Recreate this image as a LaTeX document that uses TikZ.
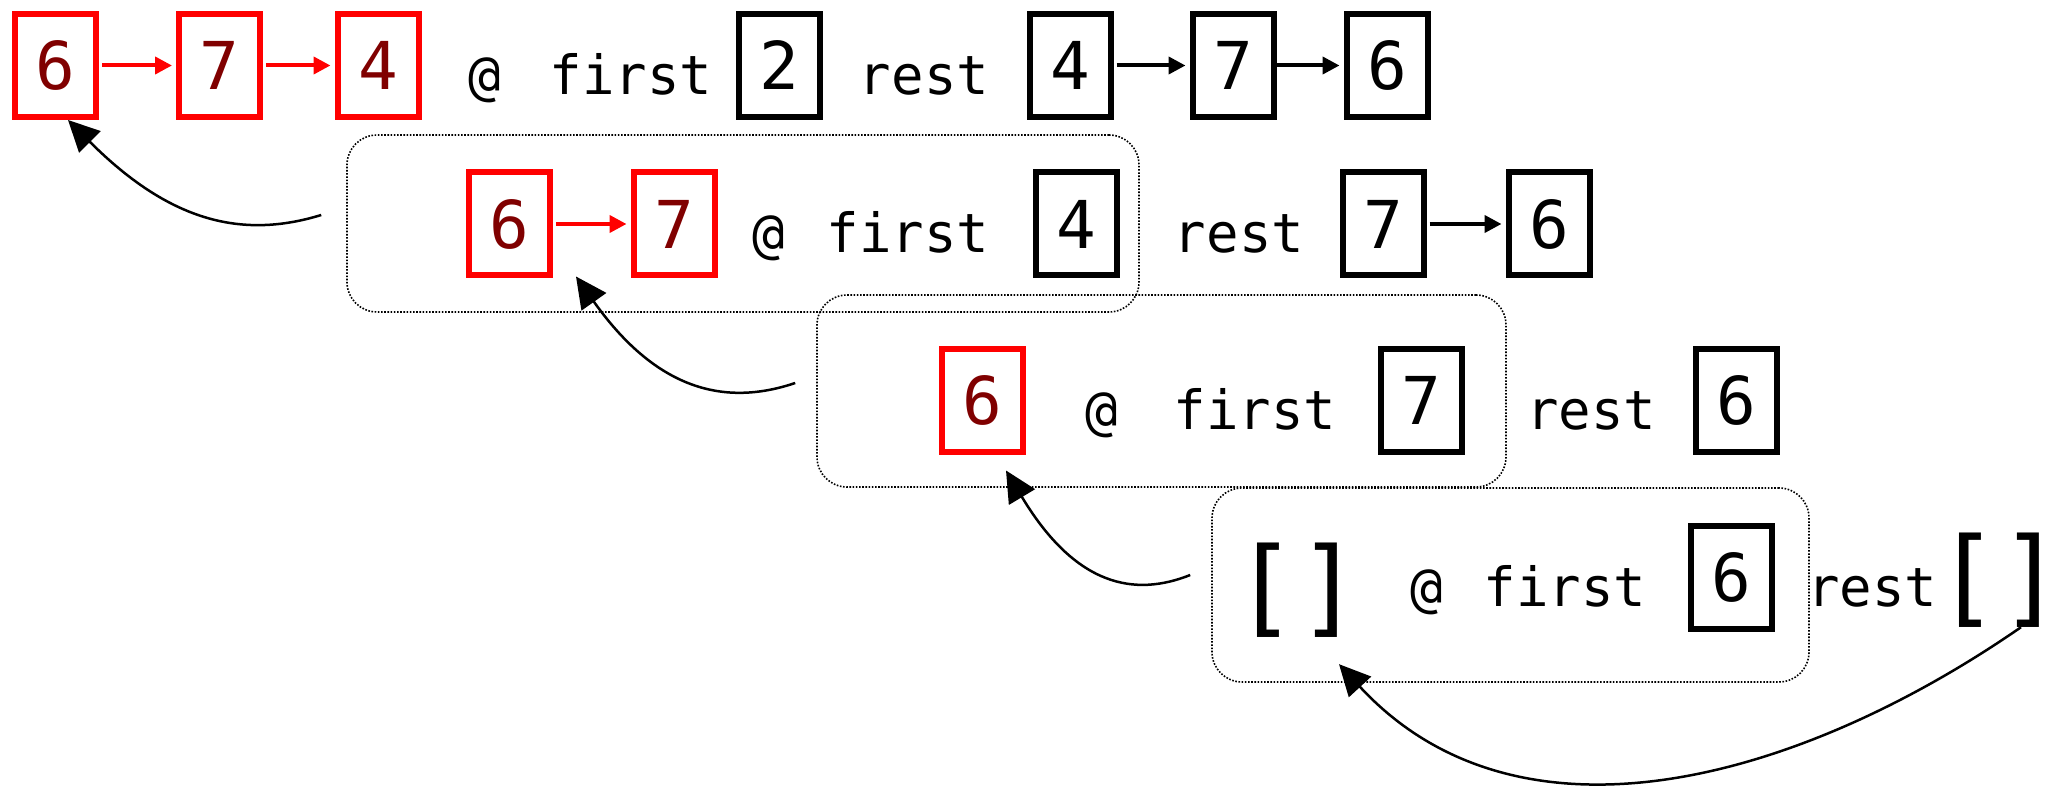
\documentclass[tikz,border=0pt]{standalone}
\usepackage{fontspec}
\newfontfamily\monofont{DejaVu Sans Mono}
\usetikzlibrary{arrows.meta}
\definecolor{darkred}{RGB}{128,0,0}
\begin{document}
\begin{tikzpicture}[x=1pt,y=-1pt,
  cell/.style={draw, line width=6pt, minimum width=81pt, minimum height=103pt, inner sep=0pt,
    font=\monofont\fontsize{66}{66}\selectfont},
  redcell/.style={cell, draw=red, text=darkred},
  blackcell/.style={cell, draw=black, text=black},
  word/.style={anchor=base, inner sep=0pt, font=\monofont\fontsize{54}{54}\selectfont},
  brk/.style={anchor=base, inner sep=0pt, font=\monofont\fontsize{106}{106}\selectfont},
  dotbox/.style={draw, line width=1.6pt, dash pattern=on 1.6pt off 1.6pt, rounded corners=30pt, inner sep=0pt},
  redarr/.style={draw=red, line width=4pt, -{Triangle[length=17pt,width=17pt]}, shorten <=3pt, shorten >=4pt},
  blkarr/.style={draw=black, line width=4pt, -{Triangle[length=17pt,width=17pt]}, shorten <=3pt, shorten >=4pt},
  curvearr/.style={draw=black, line width=2.5pt, -{Triangle[length=31pt,width=30pt]}}
]
\useasboundingbox (0,0) rectangle (2063,786);

% dotted frames
\node[dotbox, minimum width=792pt, minimum height=177pt] (D2) at (743,223.5) {};
\node[dotbox, minimum width=689pt, minimum height=192pt] (D3) at (1161.5,391) {};
\node[dotbox, minimum width=597pt, minimum height=194pt] (D4) at (1510.5,585) {};

% row 1
\node[redcell] (a1) at (55.5,65.5) {6};
\node[redcell] (a2) at (219.5,65.5) {7};
\node[redcell] (a3) at (378,65.5) {4};
\node[word] (a4) at (485,94.5) {@};
\node[word] (a5) at (631,94.5) {first};
\node[blackcell] (a6) at (779,65.5) {2};
\node[word] (a7) at (924,94.5) {rest};
\node[blackcell] (a8) at (1070,65.5) {4};
\node[blackcell] (a9) at (1233,65.5) {7};
\node[blackcell] (a10) at (1387,65.5) {6};
\draw[redarr] (a1) -- (a2);
\draw[redarr] (a2) -- (a3);
\draw[blkarr] (a8) -- (a9);
\draw[blkarr, shorten <=-5pt] (a9) -- (a10);

% row 2
\node[redcell] (b1) at (509.5,224) {6};
\node[redcell] (b2) at (674,224) {7};
\node[word] (b3) at (768.5,253) {@};
\node[word] (b4) at (908,253) {first};
\node[blackcell] (b5) at (1076,224) {4};
\node[word] (b6) at (1239,253) {rest};
\node[blackcell] (b7) at (1383,224) {7};
\node[blackcell] (b8) at (1549,224) {6};
\draw[redarr] (b1) -- (b2);
\draw[blkarr] (b7) -- (b8);

% row 3
\node[redcell] (c1) at (982,400) {6};
\node[word] (c2) at (1102,429) {@};
\node[word] (c3) at (1255,429) {first};
\node[blackcell] (c4) at (1421,400) {7};
\node[word] (c5) at (1591,429) {rest};
\node[blackcell] (c6) at (1736,400) {6};

% row 4
\node[brk] (d1) at (1297.5,623) {[]};
\node[word] (d2) at (1426.5,606) {@};
\node[word] (d3) at (1565,606) {first};
\node[blackcell] (d4) at (1731,577) {6};
\node[word] (d5) at (1872,606) {rest};
\node[brk] (d6) at (1999,613) {[]};

% curved arrows
\draw[curvearr] ([xshift=-25pt,yshift=8.5pt]D2.west) .. controls (240,240) and (168,220) .. ([xshift=12.5pt]a1.south);
\draw[curvearr] ([xshift=-21pt,yshift=8pt]D3.west) .. controls (730,405) and (660,395) .. ([xshift=23pt,yshift=2pt]b1.south east);
\draw[curvearr] ([xshift=-21pt,yshift=10pt]D4.west) .. controls (1135,597) and (1076,587) .. ([xshift=24pt,yshift=-16pt]c1.south);
\draw[curvearr] ([xshift=22pt]d6.south) .. controls (1800,780) and (1520,860) .. ([xshift=41.5pt,yshift=-27pt]d1.south);
\end{tikzpicture}
\end{document}
